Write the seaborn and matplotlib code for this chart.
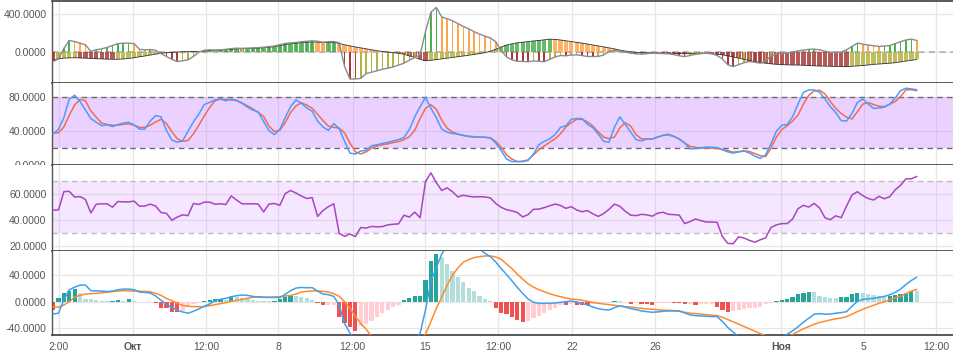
import numpy as np
import pandas as pd
import seaborn as sns
import matplotlib.pyplot as plt
from matplotlib.ticker import FormatStrFormatter
from matplotlib.transforms import Bbox, TransformedBbox, blended_transform_factory

# time axis: one bar per step, labelled at a few steps
tick_pos = [1.1, 14.8, 28.3, 41.7, 55.5, 68.9, 82.5, 96.1, 111.5, 134.8, 150.2, 163.6]
tick_labels = ['2:00', 'Окт', '12:00', '8', '12:00', '15', '12:00', '22', '26', 'Ноя', '5', '12:00']

# panel 1: two power series (thin stems / wide bars)
power_fast = [-98, -70, 40, 123, 110, 95, 77, 8, 25, 35,
              50, 70, 90, 95, 95, 90, 30, 25, 28, 20,
              -15, -45, -75, -98, -90, -80, -45, 0, 20, 25,
              22, 25, 30, 38, 42, 40, 42, 45, 48, 52,
              58, 65, 78, 92, 98, 102, 110, 115, 119, 115,
              105, 110, 112, 100, -150, -281, -281, -275, -225, -210,
              -195, -180, -168, -155, -135, -115, -85, -55, -28, 220,
              420, 470, 370, 350, 330, 300, 270, 245, 215, 190,
              168, 150, 110, 20, -50, -80, -95, -98, -100, -92,
              -95, -100, -75, -50, -35, -38, -30, -28, -35, -45,
              -46, -44, -30, 10, 17, 10, 0, -10, -18, -21,
              -15, -10, -12, -15, -17, -25, -38, -46, -35, -22,
              -15, -10, -12, -35, -70, -133, -151, -130, -110, -98,
              -105, -116, -90, -40, -20, -12, -10, 2, 14, 22,
              30, 32, 25, 10, 0, -3, 2, 25, 60, 95,
              85, 75, 68, 60, 65, 68, 90, 110, 128, 137, 123]
power_slow = [-80, -70, -62, -60, -58, -60, -63, -66, -68, -70,
              -73, -75, -74, -71, -66, -58, -48, -40, -30, -20,
              -12, -6, -2, 2, 4, 6, 8, 5, 12, 18,
              20, 22, 25, 30, 35, 37, 38, 40, 43, 47,
              52, 58, 68, 80, 88, 94, 100, 105, 108, 106,
              100, 102, 104, 92, 78, 66, 55, 45, 35, 25,
              16, 8, 2, -5, -12, -20, -40, -55, -75, -90,
              -85, -78, -70, -62, -55, -48, -40, -32, -25, -15,
              -5, 10, 30, 55, 75, 88, 98, 105, 112, 118,
              123, 130, 137, 134, 128, 120, 112, 104, 95, 86,
              76, 66, 55, 45, 35, 22, 12, 4, -2, -6,
              -8, -10, -9, -10, -12, -13, -15, -16, -14, -12,
              -12, -14, -18, -22, -28, -38, -50, -62, -75, -88,
              -98, -108, -116, -122, -128, -131, -133, -134, -135, -138,
              -140, -143, -145, -147, -149, -150, -151, -152, -148, -144,
              -140, -134, -128, -124, -120, -116, -110, -102, -93, -85, -76]

# panel 2: stochastic %K / %D
stoch_k = [36.8, 42, 56, 78, 82.5, 75, 65, 55, 50.5, 46.5,
           47.5, 45.5, 47.8, 49.5, 50.5, 47.5, 42.5, 42.5, 52, 58.5,
           57, 41, 29.5, 27, 28.5, 40, 51, 60, 71.5, 74,
           77.2, 78, 76, 78, 76.5, 73, 68.5, 65, 62.8, 51.5,
           40.5, 36, 42, 56, 69, 77, 73, 67.5, 63.5, 52,
           45, 41, 49, 43, 28, 14, 13, 16.5, 17.2, 22.8,
           24, 25.5, 26.8, 28.5, 30, 32.5, 42, 57, 69, 80,
           67, 56, 42.5, 38.8, 37.3, 36.5, 35, 33.7, 33, 32.8,
           32.8, 32, 26, 17, 7, 4, 4, 4, 5.5, 13,
           24, 28, 31, 36, 44.5, 46.5, 54, 55, 55, 48,
           44.2, 36.5, 28, 27, 44.8, 57, 48, 39, 30, 28.5,
           30.8, 30.8, 33, 35.2, 36.5, 34, 30.5, 26, 19, 19.5,
           20.5, 21.2, 21, 20.6, 18, 15.5, 14, 15.5, 16.6, 14.2,
           10.5, 7.8, 12, 25, 40, 47, 48, 57, 72, 86,
           88.8, 88.8, 86, 78, 69, 62, 52.5, 52, 61, 74,
           78, 72, 67, 67.5, 68.5, 72, 79, 88, 90.8, 90, 89]
stoch_d = [38, 38, 45, 59, 71, 77.5, 76, 64, 56.5, 49.5,
           48, 47, 47, 48.2, 48.7, 47, 44.5, 44.5, 47, 51,
           54, 49, 39.5, 31, 28, 29, 36.8, 47, 58, 68,
           76, 78, 77.5, 77, 76, 73.5, 70, 66.5, 62, 57.5,
           46, 39.5, 41, 50, 62, 70, 73.5, 71, 67, 60,
           52.5, 46, 44.5, 43.5, 38, 26, 15.5, 13, 15.5, 20,
           22.5, 24, 25, 26.5, 27.7, 30, 33.5, 41, 55, 67,
           71.2, 66, 53, 43.5, 39, 36.5, 35, 34, 33.5, 33.2,
           32.8, 32.2, 28, 21, 12, 7, 4, 4.5, 6, 12,
           18, 22.5, 27, 31, 37, 45, 50, 54, 54, 51,
           46, 39, 33, 31.2, 33, 44, 50, 46, 36, 31,
           30.8, 30.8, 33, 35, 35.5, 33.5, 31, 26, 22, 21,
           20, 20, 20, 19.5, 18.5, 17, 15.2, 15.8, 16.5, 16,
           13.5, 11, 10, 20, 33, 42, 46.5, 52, 59, 72,
           82.5, 87.5, 88.5, 84, 75, 67, 61, 56.5, 54.5, 63,
           72, 74, 71.5, 69.5, 69, 72, 75, 81, 88.8, 89, 88]

# panel 3: RSI
rsi = [47.8, 48, 62.1, 62.3, 57.9, 58.3, 56, 45.7, 52.4, 52.7,
       52.7, 50.1, 54.5, 54.2, 54.2, 54.8, 50.9, 51, 52.5, 51,
       46, 45.4, 40, 42.5, 44.2, 43.6, 53, 52.2, 54, 54,
       52.4, 52.7, 52.2, 58.8, 55.6, 52.7, 52.7, 52.7, 52.5, 46.5,
       52.5, 53, 51.5, 60.5, 63, 61, 58.7, 56.8, 57.5, 43,
       47.5, 50.5, 52.8, 30, 27.7, 29.5, 27.5, 34.5, 34, 35.3,
       35, 35.2, 36.5, 37, 37.3, 43.9, 42.5, 46.3, 42, 70,
       76.5, 69, 63, 65, 62, 58, 59.3, 58.5, 58, 58.2,
       58, 57.3, 53, 50, 48.2, 47.3, 46, 42.6, 44.4, 48.5,
       48.6, 49.8, 51.2, 52.5, 51.5, 49.2, 50.5, 48, 46.6, 47.5,
       45, 43, 45.2, 48.5, 52.5, 50.8, 47, 44, 43.6, 44.6,
       44.2, 43.2, 45.5, 46.2, 44.6, 44.4, 44, 37.5, 39, 41,
       39.8, 38.7, 38.7, 38.5, 27.5, 22.2, 22, 27.3, 26.4, 24.5,
       23.2, 25, 26.5, 34.5, 36.5, 37.5, 37.5, 41, 49, 51.5,
       50.2, 53, 49.5, 42, 40.5, 43.5, 42, 51, 59.5, 62,
       59, 56.8, 55.6, 58.5, 56.6, 58.2, 63.5, 67, 71.9, 72, 73.8]

# panel 4: MACD
macd = [-18.5, -17.5, 3, 18, 22, 25, 25, 16.5, 16.2, 16,
        15.2, 16, 18, 19, 19, 18, 14.5, 14, 13, 8.5,
        2, -4, -8.5, -12.8, -15.5, -17.5, -14.5, -11, -7, -3.5,
        1.5, 3.5, 5, 7.5, 9, 10, 9.5, 8, 7, 6.5,
        6.5, 6.5, 6, 11, 16.5, 20.5, 21.5, 21, 21.2, 16,
        11.5, 10.5, 8, -5, -33, -47.5, -58, -65, -70, -73,
        -75, -76, -75, -73, -70, -66, -61, -56, -47.5, -12,
        31, 51, 72, 85, 93, 97, 97, 94, 88, 80,
        73, 68, 60, 50, 41, 31.5, 21.5, 12.5, 4, -1,
        -2.5, -2.5, -2.5, -2, -1, 0, 1, -0.5, -2.5, -5,
        -8, -10.5, -12, -12.5, -9, -6.5, -8, -10.5, -12, -14,
        -15, -16, -15.5, -14.5, -14, -14, -14, -17, -20, -21,
        -21.5, -22, -22.5, -22.5, -30, -39, -46, -53, -58, -62,
        -64, -65, -64, -61, -57, -53, -49, -44, -38, -31,
        -25, -19, -18, -19, -18.5, -17.5, -16.5, -15, -7, 0.5,
        3.5, 4.2, 5, 6.5, 8, 10.5, 14, 19, 26, 32, 37]
signal = [-7.5, -8.5, -5, 0, 7, 9.5, 11.5, 12, 12.5, 13.2,
          14.5, 15.3, 16, 16.5, 16.3, 16, 15.8, 15.5, 15, 12.5,
          9.5, 5, 1.5, -2.5, -5.5, -7, -7.5, -7.5, -7.5, -6,
          -4.5, -3, -1.5, 0.5, 2, 3.5, 5, 6.5, 7.5, 7,
          6.5, 7, 7.5, 8.5, 9.5, 11.5, 14.5, 15.5, 16.2, 16.2,
          15.5, 14.5, 12, 8, 0, -10, -22, -33, -41.5, -52,
          -58, -62, -64, -65, -65, -64, -62, -59, -55, -49,
          -30, -10, 7, 25, 40, 51, 59.5, 63.5, 66.5, 68,
          69, 69, 67.5, 64, 57, 50, 41.5, 34, 27, 22,
          18, 15, 12, 9.5, 7.5, 5.5, 4, 3.2, 2, 0.5,
          -1, -2.5, -3.5, -4.5, -5.5, -6.5, -7.5, -8, -9.2, -10,
          -11, -11.5, -12.3, -12.7, -13.2, -13.5, -14.5, -16, -17.3, -18,
          -18.6, -19.5, -20.3, -21, -23.5, -27, -30.5, -34, -37.5, -41,
          -44.5, -48, -51.5, -54, -55, -55, -53, -49.5, -45, -41,
          -37.5, -34, -31.5, -29.5, -27.5, -26, -24.5, -22.5, -19, -15,
          -11.5, -8.5, -5.5, -2.5, 0, 3, 5.5, 8, 12, 16, 18.5]
hist = [-12, 5, 13.5, 16, 18.5, 13.5, 4, 3.5, 3, 1.5,
        0.5, 1.5, 1.8, 1, 3.5, 0.3, -1, -1.2, -0.8, -2,
        -9, -10, -15, -15.5, -14, -7.5, -4, -2.5, 1, 2.5,
        4, 4.2, 2.5, 7.5, 7.3, 5, 4, 2.5, 1.5, 0.5,
        0.3, 1, 4, 7.5, 8.5, 8.4, 6.5, 5, 3, -2.5,
        -5, -4.8, -4.5, -22.5, -32.5, -38.5, -44, -36.5, -34, -29,
        -22.5, -17.5, -12.5, -8.5, -5, 2.5, 5, 8.5, 9, 32.5,
        61, 72.5, 67.5, 57.5, 46.5, 37.5, 29, 21, 16, 9,
        3.5, 0.5, -9, -16.5, -19, -22.5, -27.5, -30, -29.5, -25,
        -21.5, -17.5, -12.5, -9, -5, -5.5, -4, -5, -5.3, -5.5,
        -4, -2.5, -2.3, -2, 1.5, 1, -1, -4, -2.5, -4,
        -4.2, -4.4, -1.5, -1.4, -1.3, -2.5, -2.7, -4, -3.8, -5,
        -4, -3, -2.8, -7.5, -12.5, -15, -14, -12.5, -11.5, -10,
        -9, -7.5, -4, -1.5, 1, 2.5, 4, 7.5, 11, 12.5,
        15, 14.5, 9, 6.5, 5, 4.8, 6.5, 7.5, 11.5, 13.5,
        12.5, 11, 10, 8.5, 7.5, 8.5, 10, 11.5, 13.5, 16.5, 16.3]

df = pd.DataFrame({'bar': np.arange(len(rsi)), 'fast': power_fast, 'slow': power_slow,
                   'k': stoch_k, 'd': stoch_d, 'rsi': rsi,
                   'macd': macd, 'signal': signal, 'hist': hist})


def trend_colors(vals, up_pos, down_pos, down_neg, up_neg):
    out = []
    prev = vals[0]
    for v in vals:
        if v >= 0:
            out.append(up_pos if v >= prev else down_pos)
        else:
            out.append(down_neg if v <= prev else up_neg)
        prev = v
    return out


sns.set_theme(style="white")
plt.rcParams['font.family'] = ['Liberation Sans', 'DejaVu Sans']
plt.rcParams['axes.unicode_minus'] = False

fig = plt.figure(figsize=(9.54, 3.53), dpi=100)
left, width = 52 / 954, 1 - 52 / 954
rows = [(0.7649, 0.2331), (0.5326, 0.2323), (0.2890, 0.2436), (0.0510, 0.2380)]
axes = []
for i, (b, h) in enumerate(rows):
    ax = fig.add_axes([left, b, width, h], sharex=axes[0] if axes else None)
    axes.append(ax)
ax1, ax2, ax3, ax4 = axes

grid_c = '#e6e6e6'

# --- panel 1
ax1.axhline(0, color='#aaaaaa', lw=1.1, ls=(0, (4, 3)), zorder=1)
ax1.bar(df['bar'], df['slow'], width=0.8, linewidth=0, alpha=0.85, zorder=2,
        color=trend_colors(power_slow, '#4caf50', '#ffa64d', '#a83c3c', '#b5b245'))
ax1.bar(df['bar'], df['fast'], width=0.3, linewidth=0, zorder=3,
        color=trend_colors(power_fast, '#4caf50', '#ffa64d', '#a83c3c', '#b5b245'))
sns.lineplot(data=df, x='bar', y='slow', ax=ax1, color='#333333', lw=0.6, zorder=4)
sns.lineplot(data=df, x='bar', y='fast', ax=ax1, color='#8c8c8c', lw=1.0, zorder=5)
ax1.set_ylim(-323, 540)
ax1.set_yticks([0, 400])

# --- panel 2
ax2.axhspan(20, 80, color='#c77dff', alpha=0.35, lw=0, zorder=1)
for lvl in (20, 80):
    ax2.axhline(lvl, color='#6e6e6e', lw=1.0, ls=(0, (4, 3)), zorder=2)
sns.lineplot(data=df, x='bar', y='d', ax=ax2, color='#f26b4f', lw=1.1, zorder=3)
sns.lineplot(data=df, x='bar', y='k', ax=ax2, color='#4c9bff', lw=1.1, zorder=4)
ax2.set_ylim(0, 97)
ax2.set_yticks([0, 40, 80])

# --- panel 3
ax3.axhspan(30, 70, color='#c77dff', alpha=0.18, lw=0, zorder=1)
for lvl in (30, 70):
    ax3.axhline(lvl, color='#bdbdbd', lw=1.0, ls=(0, (4, 3)), zorder=2)
sns.lineplot(data=df, x='bar', y='rsi', ax=ax3, color='#a845c0', lw=1.1, zorder=3)
ax3.set_ylim(16.4, 82.6)
ax3.set_yticks([20, 40, 60])

# --- panel 4
ax4.bar(df['bar'], df['hist'], width=0.78, linewidth=0, zorder=2,
        color=trend_colors(hist, '#26a69a', '#b2dfdb', '#ef5350', '#ffcdd2'))
sns.lineplot(data=df, x='bar', y='signal', ax=ax4, color='#ff8a2b', lw=1.1, zorder=3)
sns.lineplot(data=df, x='bar', y='macd', ax=ax4, color='#3da0f0', lw=1.1, zorder=4)
ax4.set_ylim(-50.3, 76.5)
ax4.set_yticks([-40, 0, 40])

for i, ax in enumerate(axes):
    ax.set_xlim(-0.2, 166.9)
    ax.set_xticks(tick_pos)
    ax.set_xlabel('')
    ax.set_ylabel('')
    ax.grid(True, color=grid_c, lw=0.9, zorder=0)
    ax.set_axisbelow(True)
    ax.yaxis.set_major_formatter(FormatStrFormatter('%.4f'))
    ax.tick_params(axis='y', length=2.5, width=0.8, color='#555555', pad=1.5,
                   labelsize=7.5, labelcolor='#555555')
    ax.tick_params(axis='x', length=2.5, width=0.8, color='#555555', pad=2.5,
                   labelsize=7.5, labelcolor='#555555', labelbottom=(ax is ax4))
    for s in ('left', 'bottom', 'top', 'right'):
        ax.spines[s].set_visible(False)
    ax.spines['left'].set_visible(True)
    ax.spines['left'].set_color('#555555')
    ax.spines['left'].set_linewidth(1.0)
    ax.spines['bottom'].set_visible(True)
    ax.spines['bottom'].set_color('#3c3c3c')
    ax.spines['bottom'].set_linewidth(1.2)
    if ax is not ax4:
        ax.tick_params(axis='x', length=0)
    # keep y labels inside their own panel row
    clip = TransformedBbox(Bbox([[0, 0], [1, 1]]),
                           blended_transform_factory(fig.transFigure, ax.transAxes))
    for lab in ax.get_yticklabels():
        lab.set_clip_box(clip)
        lab.set_clip_on(True)

ax1.spines['top'].set_visible(True)
ax1.spines['top'].set_color('#3c3c3c')
ax1.spines['top'].set_linewidth(1.2)

ax4.set_xticklabels(tick_labels)
for lab in ax4.get_xticklabels():
    if lab.get_text() in ('Окт', 'Ноя'):
        lab.set_fontweight('bold')

fig.savefig('out.png', dpi=100)
